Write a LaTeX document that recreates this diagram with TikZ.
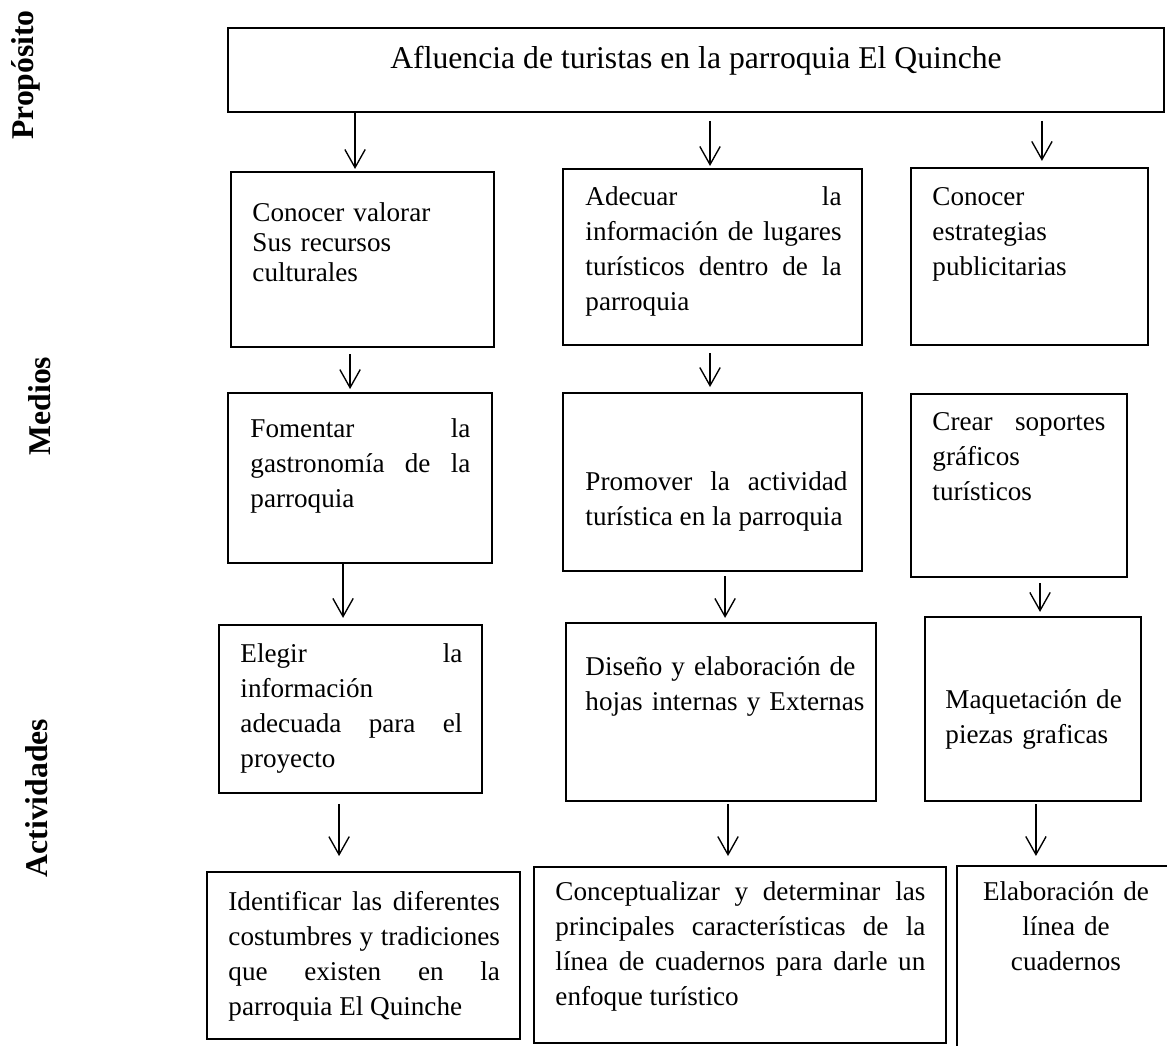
\documentclass[tikz,border=0pt]{standalone}
\usepackage{fontspec}
\setmainfont{Liberation Serif}
\usetikzlibrary{arrows.meta,fit}
\hyphenpenalty=10000
\exhyphenpenalty=10000

\begin{document}
\begin{tikzpicture}[x=0.442pt,y=-0.442pt,
caja/.style={draw,line width=0.9pt,inner sep=0pt},
texto/.style={inner sep=0pt,anchor=base west,font=\fontsize{12}{15.5}\selectfont},
eje/.style={rotate=90,anchor=base,inner sep=0pt,font=\fontsize{14}{16}\selectfont\bfseries},
flecha/.style={line width=0.6pt,-{Straight Barb[length=8pt,width=9pt]}}]
\clip (0,0) rectangle (1167,1045);
\node[eje] (lproposito) at (33,75) {Propósito};
\node[eje] (lmedios) at (50,406) {Medios};
\node[eje] (lactividades) at (47,798) {Actividades};

\node[caja,fit={(228,28)(1164,112)}] (proposito) {};
\node[inner sep=0pt,anchor=base,font=\fontsize{14}{16}\selectfont] (tproposito) at (696,68) {Afluencia de turistas en la parroquia El Quinche};

\node[caja,fit={(231,172)(494,347)}] (valorar) {};
\node[texto,text width=110pt,align=left,font=\fontsize{12}{13.3}\selectfont] (tvalorar) at (252,221) {Conocer valorar\\Sus recursos\\culturales};
\node[caja,fit={(563,169)(862,345)}] (adecuar) {};
\node[texto,text width=113.2pt,align=justify] (tadecuar) at (585,205) {Adecuar la\linebreak información de lugares\linebreak turísticos dentro de la\linebreak parroquia};
\node[caja,fit={(911,168)(1148,345)}] (estrategias) {};
\node[texto,text width=90pt,align=left] (testrategias) at (932,205) {Conocer\\estrategias\\publicitarias};

\node[caja,fit={(228,393)(492,563)}] (fomentar) {};
\node[texto,text width=97.2pt,align=justify] (tfomentar) at (250,437) {Fomentar la\linebreak gastronomía de la\linebreak parroquia};
\node[caja,fit={(563,393)(862,571)}] (promover) {};
\node[texto,text width=115.8pt,align=justify] (tpromover) at (585,490) {Promover la actividad\linebreak turística en la parroquia};
\node[caja,fit={(911,394)(1127,577)}] (soportes) {};
\node[texto,text width=76.5pt,align=justify] (tsoportes) at (932,430) {Crear soportes\linebreak gráficos\linebreak turísticos};

\node[caja,fit={(219,625)(482,793)}] (elegir) {};
\node[texto,text width=98.1pt,align=justify] (telegir) at (240,662) {Elegir la\linebreak información\linebreak adecuada para el\linebreak proyecto};
\node[caja,fit={(566,623)(876,801)}] (diseno) {};
\node[texto,text width=125pt,align=left] (tdiseno) at (585,675) {Diseño y elaboración de\\hojas internas y Externas};
\node[caja,fit={(925,617)(1141,801)}] (maquetacion) {};
\node[texto,text width=85pt,align=left] (tmaquetacion) at (945,708) {Maquetación de\\piezas graficas};

\node[caja,fit={(207,872)(520,1039)}] (identificar) {};
\node[texto,text width=120pt,align=justify] (tidentificar) at (228,910) {Identificar las diferentes\linebreak costumbres y tradiciones\linebreak que existen en la\linebreak parroquia El Quinche};
\node[caja,fit={(534,867)(946,1043)}] (conceptualizar) {};
\node[texto,text width=163.5pt,align=justify] (tconceptualizar) at (555,900) {Conceptualizar y determinar las\linebreak principales características de la\linebreak línea de cuadernos para darle un\linebreak enfoque turístico};
\node[caja,fit={(957,866)(1190,1060)}] (elaboracion) {};
\node[texto,anchor=base,text width=85pt,align=center] (telaboracion) at (1066,900) {Elaboración de\\línea de\\cuadernos};

\draw[flecha,shorten >=0.9pt] ([xshift=-3.3pt]valorar.north |- proposito.south) -- ([xshift=-3.3pt]valorar.north);
\draw[flecha,shorten <=3.5pt,shorten >=0.9pt] ([xshift=-1.1pt]adecuar.north |- proposito.south) -- ([xshift=-1.1pt]adecuar.north);
\draw[flecha,shorten <=3.5pt,shorten >=2.7pt] ([xshift=5.5pt]estrategias.north |- proposito.south) -- ([xshift=5.5pt]estrategias.north);
\draw[flecha,shorten <=2.7pt,shorten >=1.3pt] ([xshift=-4.4pt]fomentar.north |- valorar.south) -- ([xshift=-4.4pt]fomentar.north);
\draw[flecha,shorten <=3.1pt,shorten >=2.2pt] ([xshift=-1.1pt]promover.north |- adecuar.south) -- ([xshift=-1.1pt]promover.north);
\draw[flecha,shorten >=2.7pt] ([xshift=-3.3pt]elegir.north |- fomentar.south) -- ([xshift=-3.3pt]elegir.north);
\draw[flecha,shorten <=1.8pt,shorten >=1.8pt] ([xshift=1.8pt]diseno.north |- promover.south) -- ([xshift=1.8pt]diseno.north);
\draw[flecha,shorten <=2.2pt,shorten >=1.8pt] ([xshift=3.1pt]maquetacion.north |- soportes.south) -- ([xshift=3.1pt]maquetacion.north);
\draw[flecha,shorten <=4.4pt,shorten >=6.6pt] ([xshift=-10.8pt]identificar.north |- elegir.south) -- ([xshift=-10.8pt]identificar.north);
\draw[flecha,shorten <=0.9pt,shorten >=4.4pt] ([xshift=-5.3pt]conceptualizar.north |- diseno.south) -- ([xshift=-5.3pt]conceptualizar.north);
\draw[flecha,shorten <=0.9pt,shorten >=4pt] ([xshift=-16.6pt]elaboracion.north |- maquetacion.south) -- ([xshift=-16.6pt]elaboracion.north);
\end{tikzpicture}
\end{document}
